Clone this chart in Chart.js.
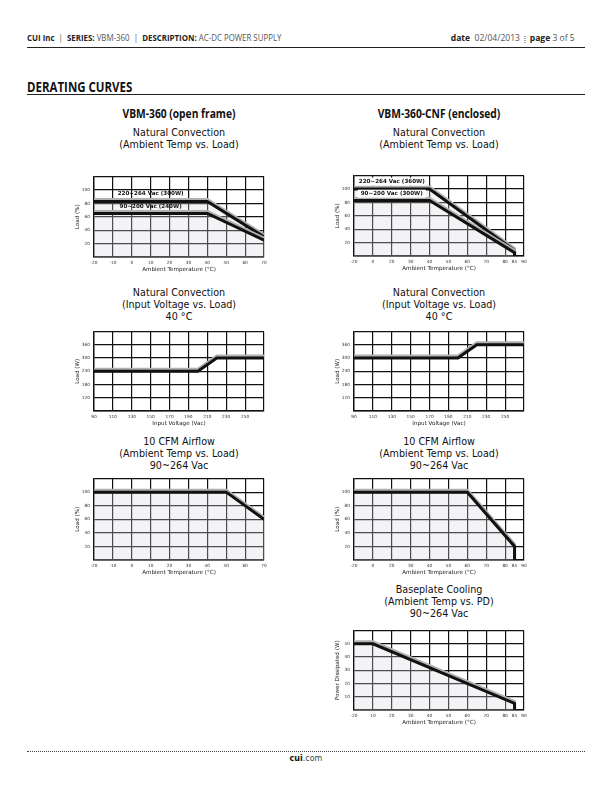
<!DOCTYPE html>
<html>
<head>
<meta charset="utf-8">
<script src="https://cdn.jsdelivr.net/npm/chart.js@4"></script>
<style>
  body { margin: 0; width: 612px; height: 792px; position: relative; background: #fff; color: #111; font-family: 'DejaVu Sans', sans-serif; }
  .abs { position: absolute; white-space: nowrap; }
  .narrow { font-family: 'Open Sans', sans-serif; }
  .hdr { top: 31px; font-size: 9.5px; color: #555; }
  .hdr b { color: #222; }
  .rule { position: absolute; left: 27px; width: 558px; height: 0; border-top: 1.3px solid #222; }
  .ctitle { top: 105px; width: 200px; text-align: center; font-weight: bold; font-size: 12.5px; color: #111; transform: scaleX(0.82); }
  .sub { width: 220px; text-align: center; font-size: 9.6px; line-height: 12px; color: #111; }
  canvas { position: absolute; }
</style>
</head>
<body>

<div class="abs narrow hdr" style="left:27px;transform:scaleX(0.83);transform-origin:left"><b>CUI Inc</b> &nbsp;|&nbsp; <b>SERIES:</b> VBM-360 &nbsp;|&nbsp; <b>DESCRIPTION:</b> AC-DC POWER SUPPLY</div>
<div class="abs narrow hdr" style="right:37px;transform:scaleX(0.9);transform-origin:right"><b>date</b> &nbsp;02/04/2013 &nbsp;<span style="display:inline-block;height:10px;border-left:1px dotted #333;vertical-align:-2px"></span>&nbsp; <b>page</b> 3 of 5</div>
<div class="rule" style="top:47px"></div>

<div class="abs narrow" style="left:27px;top:77px;font-size:14px;font-weight:bold;color:#111;transform:scaleX(0.82);transform-origin:left">DERATING CURVES</div>
<div class="rule" style="top:94px"></div>

<div class="abs narrow ctitle" style="left:79px">VBM-360 (open frame)</div>
<div class="abs narrow ctitle" style="left:339px">VBM-360-CNF (enclosed)</div>

<div class="abs sub" style="left:69px;top:127px">Natural Convection<br>(Ambient Temp vs. Load)</div>
<div class="abs sub" style="left:329px;top:127px">Natural Convection<br>(Ambient Temp vs. Load)</div>
<div class="abs sub" style="left:69px;top:287px">Natural Convection<br>(Input Voltage vs. Load)<br>40 °C</div>
<div class="abs sub" style="left:329px;top:287px">Natural Convection<br>(Input Voltage vs. Load)<br>40 °C</div>
<div class="abs sub" style="left:69px;top:436px">10 CFM Airflow<br>(Ambient Temp vs. Load)<br>90~264 Vac</div>
<div class="abs sub" style="left:329px;top:436px">10 CFM Airflow<br>(Ambient Temp vs. Load)<br>90~264 Vac</div>
<div class="abs sub" style="left:329px;top:584px">Baseplate Cooling<br>(Ambient Temp vs. PD)<br>90~264 Vac</div>

<canvas id="c1"></canvas>
<canvas id="c2"></canvas>
<canvas id="c3"></canvas>
<canvas id="c4"></canvas>
<canvas id="c5"></canvas>
<canvas id="c6"></canvas>
<canvas id="c7"></canvas>

<div style="position:absolute;left:27px;top:751px;width:558px;border-top:1px dotted #444"></div>
<div class="abs" style="left:0;width:612px;top:754px;text-align:center;font-size:8px;color:#444"><b style="color:#111">cui</b>.com</div>

<script>
// natural convection, ambient temp vs load (open frame)
const ncOpenTemp = [-20, 40, 70];
const ncOpenHigh = [83, 83, 30];   // 220~264 Vac (300W)
const ncOpenLow = [65, 65, 25];    // 90~200 Vac (240W)

// natural convection, ambient temp vs load (enclosed)
const ncEncTemp = [0, 40, 85, 85];
const ncEncHigh = [100, 100, 8, 0];  // 220~264 Vac (360W)
const ncEncLow = [83, 83, 5, 0];     // 90~200 Vac (300W)

// natural convection, input voltage vs load at 40 °C
const vinVolts = [90, 200, 220, 270];
const vinOpenLoad = [240, 240, 300, 300];
const vinEncLoad = [300, 300, 360, 360];

// 10 CFM airflow
const cfmOpenTemp = [-20, 50, 70];
const cfmOpenLoad = [100, 100, 60];
const cfmEncTemp = [0, 60, 85, 85];
const cfmEncLoad = [100, 100, 20, 0];

// baseplate cooling, ambient temp vs power dissipated
const bpTemp = [0, 10, 85, 85];
const bpPower = [50, 50, 5, 0];

// ticks
const tempTicksOpen = [-20, -10, 0, 10, 20, 30, 40, 50, 60, 70];
const tempTicksEnc = [0, 10, 20, 30, 40, 50, 60, 70, 80, 85, 90];
const tempLabelsEnc = ['-20', '0', '20', '30', '40', '50', '60', '70', '80', '85', '90'];
const tempLabelsBp = ['-20', '10', '20', '30', '40', '50', '60', '70', '80', '85', '90'];
const voltTicks = [90, 110, 130, 150, 170, 190, 210, 230, 250, 270];
const loadPctTicks = [0, 20, 40, 60, 80, 100, 120];
const loadWTicks = [60, 120, 180, 240, 300, 360, 420];
const pdTicks = [0, 10, 20, 30, 40, 50, 60];

const pts = (xs, ys) => xs.map((x, i) => ({ x: x, y: ys[i] }));

// grey offset edge above the black curves
const shadow = {
  id: 'shadow',
  beforeDatasetDraw(chart) {
    const c = chart.ctx;
    c.save();
    c.shadowColor = '#b0b0b0';
    c.shadowOffsetX = 0;
    c.shadowOffsetY = -2;
    c.shadowBlur = 0;
  },
  afterDatasetDraw(chart) { chart.ctx.restore(); }
};

// curve captions inside the plot
const captions = {
  id: 'captions',
  afterDatasetsDraw(chart, args, opts) {
    const c = chart.ctx, sx = chart.scales.x, sy = chart.scales.y;
    (opts.items || []).forEach(it => {
      const px = sx.getPixelForValue(it.x), py = sy.getPixelForValue(it.y);
      c.save();
      c.font = 'bold 5.6px "DejaVu Sans"';
      c.textAlign = 'center';
      c.textBaseline = 'middle';
      if (it.box) {
        const w = c.measureText(it.text).width + 6;
        c.fillStyle = '#fff';
        c.fillRect(px - w / 2, py - 4, w, 8);
      }
      c.fillStyle = '#111';
      c.fillText(it.text, px, py);
      c.restore();
    });
  }
};

const W = 170;
function makeChart(id, left, top, h, cfg) {
  const cv = document.getElementById(id);
  cv.width = 22 + W + 10;
  cv.height = 3 + h + 16;
  cv.style.left = (left - 22) + 'px';
  cv.style.top = (top - 3) + 'px';

  const fillCol = 'rgba(215, 215, 225, 0.3)';
  const datasets = cfg.lines.map((d, i) => ({
    data: d,
    borderColor: '#111',
    borderWidth: 3,
    borderJoinStyle: 'miter',
    pointRadius: 0,
    tension: 0,
    fill: cfg.fill && i === cfg.lines.length - 1 ? 'origin' : false,
    backgroundColor: fillCol
  }));

  const tickFont = { family: 'DejaVu Sans', size: 4.3 };
  const titleFont = { family: 'DejaVu Sans', size: 5.6 };

  new Chart(cv, {
    type: 'line',
    data: { datasets: datasets },
    options: {
      responsive: false,
      animation: false,
      layout: { padding: { top: 3, right: 10, left: 0, bottom: 0 } },
      plugins: {
        legend: { display: false },
        tooltip: { enabled: false },
        captions: { items: cfg.captions || [] }
      },
      scales: {
        x: {
          type: 'linear',
          min: cfg.xTicks[0],
          max: cfg.xTicks[cfg.xTicks.length - 1],
          afterBuildTicks: s => { s.ticks = cfg.xTicks.map(v => ({ value: v })); },
          afterFit: s => { s.height = 16; },
          ticks: {
            autoSkip: false, maxRotation: 0, padding: 3, color: '#333', font: tickFont,
            callback: (v, i) => cfg.xLabels[i]
          },
          grid: {
            color: ctx => (ctx.tick && ctx.tick.value === 85) ? 'rgba(0,0,0,0)' : '#111',
            lineWidth: 1.2, drawTicks: false
          },
          border: { color: '#111', width: 1.4 },
          title: { display: true, text: cfg.xTitle, color: '#222', font: titleFont, padding: 0 }
        },
        y: {
          min: cfg.yTicks[0],
          max: cfg.yTicks[cfg.yTicks.length - 1],
          afterBuildTicks: s => { s.ticks = cfg.yTicks.map(v => ({ value: v })); },
          afterFit: s => { s.width = 22; },
          ticks: {
            padding: 4, color: '#333', font: tickFont,
            callback: (v, i) => (i === 0 || i === cfg.yTicks.length - 1) ? '' : String(v)
          },
          grid: { color: '#111', lineWidth: 1.2, drawTicks: false },
          border: { color: '#111', width: 1.4 },
          title: { display: true, text: cfg.yTitle, color: '#222', font: titleFont, padding: { top: 2, bottom: 0 } }
        }
      }
    },
    plugins: [shadow, captions]
  });
}

const tempTitle = 'Ambient Temperature (°C)';
const voltTitle = 'Input Voltage (Vac)';

makeChart('c1', 94, 173, 84, {
  lines: [pts(ncOpenTemp, ncOpenLow), pts(ncOpenTemp, ncOpenHigh)],
  fill: true,
  xTicks: tempTicksOpen, xLabels: tempTicksOpen.map(String), xTitle: tempTitle,
  yTicks: loadPctTicks, yTitle: 'Load (%)',
  captions: [
    { text: '220~264 Vac (300W)', x: 10, y: 94 },
    { text: '90~200 Vac (240W)', x: 10, y: 76 }
  ]
});

makeChart('c2', 354, 172, 84, {
  lines: [pts(ncEncTemp, ncEncLow), pts(ncEncTemp, ncEncHigh)],
  fill: true,
  xTicks: tempTicksEnc, xLabels: tempLabelsEnc, xTitle: tempTitle,
  yTicks: loadPctTicks, yTitle: 'Load (%)',
  captions: [
    { text: '220~264 Vac (360W)', x: 20, y: 111, box: true },
    { text: '90~200 Vac (300W)', x: 20, y: 93, box: true }
  ]
});

makeChart('c3', 94, 328, 83, {
  lines: [pts(vinVolts, vinOpenLoad)],
  fill: false,
  xTicks: voltTicks, xLabels: voltTicks.map((v, i) => i === voltTicks.length - 1 ? '' : String(v)), xTitle: voltTitle,
  yTicks: loadWTicks, yTitle: 'Load (W)'
});

makeChart('c4', 354, 328, 83, {
  lines: [pts(vinVolts, vinEncLoad)],
  fill: false,
  xTicks: voltTicks, xLabels: voltTicks.map((v, i) => i === voltTicks.length - 1 ? '' : String(v)), xTitle: voltTitle,
  yTicks: loadWTicks, yTitle: 'Load (W)'
});

makeChart('c5', 94, 475, 85, {
  lines: [pts(cfmOpenTemp, cfmOpenLoad)],
  fill: true,
  xTicks: tempTicksOpen, xLabels: tempTicksOpen.map(String), xTitle: tempTitle,
  yTicks: loadPctTicks, yTitle: 'Load (%)'
});

makeChart('c6', 354, 475, 85, {
  lines: [pts(cfmEncTemp, cfmEncLoad)],
  fill: true,
  xTicks: tempTicksEnc, xLabels: tempLabelsEnc, xTitle: tempTitle,
  yTicks: loadPctTicks, yTitle: 'Load (%)'
});

makeChart('c7', 354, 627, 83, {
  lines: [pts(bpTemp, bpPower)],
  fill: true,
  xTicks: tempTicksEnc, xLabels: tempLabelsBp, xTitle: tempTitle,
  yTicks: pdTicks, yTitle: 'Power Dissipated (W)'
});
</script>
</body>
</html>
